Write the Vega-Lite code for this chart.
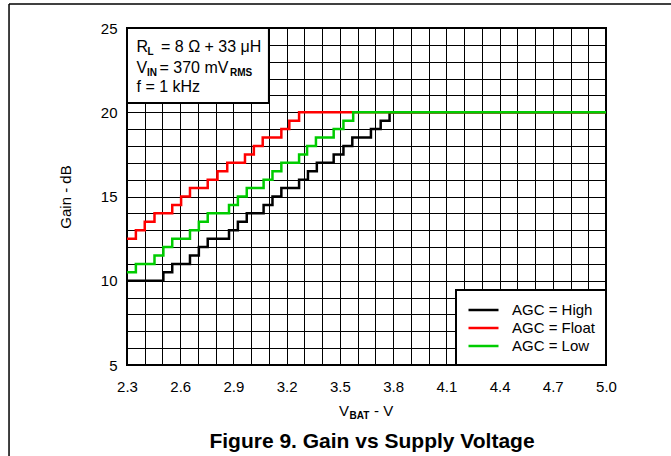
{
  "$schema": "https://vega.github.io/schema/vega-lite/v6.json",
  "autosize": {"type": "none"},
  "padding": {"left": 127, "top": 28, "right": 65, "bottom": 91},
  "width": 479,
  "height": 337,
  "background": "white",
  "config": {
    "font": "Liberation Sans",
    "view": {"stroke": "#000000", "strokeWidth": 2},
    "legend": {
      "orient": "bottom-right",
      "offset": 0,
      "fillColor": "white",
      "strokeColor": "black",
      "strokeWidth": 2,
      "padding": 11,
      "symbolType": "M-1,0H3",
      "symbolSize": 225,
      "symbolStrokeWidth": 2.5,
      "labelFontSize": 15,
      "labelFont": "Liberation Sans",
      "labelColor": "#000000",
      "labelOffset": 27,
      "rowPadding": 1,
      "labelLimit": 200
    }
  },
  "datasets": {
    "curves": [
      {"v": 2.30, "gain": 10, "agc": "AGC = High"},
      {"v": 2.505, "gain": 10.5, "agc": "AGC = High"},
      {"v": 2.555, "gain": 11, "agc": "AGC = High"},
      {"v": 2.655, "gain": 11.5, "agc": "AGC = High"},
      {"v": 2.705, "gain": 12, "agc": "AGC = High"},
      {"v": 2.755, "gain": 12.5, "agc": "AGC = High"},
      {"v": 2.875, "gain": 13, "agc": "AGC = High"},
      {"v": 2.925, "gain": 13.5, "agc": "AGC = High"},
      {"v": 2.975, "gain": 14, "agc": "AGC = High"},
      {"v": 3.07, "gain": 14.5, "agc": "AGC = High"},
      {"v": 3.12, "gain": 15, "agc": "AGC = High"},
      {"v": 3.17, "gain": 15.5, "agc": "AGC = High"},
      {"v": 3.27, "gain": 16, "agc": "AGC = High"},
      {"v": 3.32, "gain": 16.5, "agc": "AGC = High"},
      {"v": 3.37, "gain": 17, "agc": "AGC = High"},
      {"v": 3.465, "gain": 17.5, "agc": "AGC = High"},
      {"v": 3.52, "gain": 18, "agc": "AGC = High"},
      {"v": 3.57, "gain": 18.5, "agc": "AGC = High"},
      {"v": 3.675, "gain": 19, "agc": "AGC = High"},
      {"v": 3.73, "gain": 19.5, "agc": "AGC = High"},
      {"v": 3.78, "gain": 20, "agc": "AGC = High"},
      {"v": 5.0, "gain": 20, "agc": "AGC = High"},
      {"v": 2.30, "gain": 12.5, "agc": "AGC = Float"},
      {"v": 2.35, "gain": 13, "agc": "AGC = Float"},
      {"v": 2.40, "gain": 13.5, "agc": "AGC = Float"},
      {"v": 2.455, "gain": 14, "agc": "AGC = Float"},
      {"v": 2.555, "gain": 14.5, "agc": "AGC = Float"},
      {"v": 2.605, "gain": 15, "agc": "AGC = Float"},
      {"v": 2.655, "gain": 15.5, "agc": "AGC = Float"},
      {"v": 2.755, "gain": 16, "agc": "AGC = Float"},
      {"v": 2.81, "gain": 16.5, "agc": "AGC = Float"},
      {"v": 2.865, "gain": 17, "agc": "AGC = Float"},
      {"v": 2.965, "gain": 17.5, "agc": "AGC = Float"},
      {"v": 3.015, "gain": 18, "agc": "AGC = Float"},
      {"v": 3.065, "gain": 18.5, "agc": "AGC = Float"},
      {"v": 3.17, "gain": 19, "agc": "AGC = Float"},
      {"v": 3.215, "gain": 19.5, "agc": "AGC = Float"},
      {"v": 3.27, "gain": 20, "agc": "AGC = Float"},
      {"v": 5.0, "gain": 20, "agc": "AGC = Float"},
      {"v": 2.30, "gain": 10.5, "agc": "AGC = Low"},
      {"v": 2.35, "gain": 11, "agc": "AGC = Low"},
      {"v": 2.455, "gain": 11.5, "agc": "AGC = Low"},
      {"v": 2.505, "gain": 12, "agc": "AGC = Low"},
      {"v": 2.555, "gain": 12.5, "agc": "AGC = Low"},
      {"v": 2.655, "gain": 13, "agc": "AGC = Low"},
      {"v": 2.705, "gain": 13.5, "agc": "AGC = Low"},
      {"v": 2.755, "gain": 14, "agc": "AGC = Low"},
      {"v": 2.875, "gain": 14.5, "agc": "AGC = Low"},
      {"v": 2.925, "gain": 15, "agc": "AGC = Low"},
      {"v": 2.975, "gain": 15.5, "agc": "AGC = Low"},
      {"v": 3.07, "gain": 16, "agc": "AGC = Low"},
      {"v": 3.12, "gain": 16.5, "agc": "AGC = Low"},
      {"v": 3.17, "gain": 17, "agc": "AGC = Low"},
      {"v": 3.27, "gain": 17.5, "agc": "AGC = Low"},
      {"v": 3.315, "gain": 18, "agc": "AGC = Low"},
      {"v": 3.365, "gain": 18.5, "agc": "AGC = Low"},
      {"v": 3.465, "gain": 19, "agc": "AGC = Low"},
      {"v": 3.52, "gain": 19.5, "agc": "AGC = Low"},
      {"v": 3.575, "gain": 20, "agc": "AGC = Low"},
      {"v": 5.0, "gain": 20, "agc": "AGC = Low"}
    ],
    "box": [
      {"v": 2.3, "v2": 3.1, "gain": 25, "gain2": 20.55}
    ],
    "border": [
      {"v": 1.635, "v2": 1.635, "gain": 26.42, "gain2": -2},
      {"v": 1.635, "v2": 5.6, "gain": 26.42, "gain2": 26.42}
    ],
    "notes": [
      {"v": 2.3536, "gain": 23.576, "t": "R", "kind": "main"},
      {"v": 2.4917, "gain": 23.576, "t": "= 8 Ω + 33 μH", "kind": "main"},
      {"v": 2.3536, "gain": 22.359, "t": "V", "kind": "main"},
      {"v": 2.4832, "gain": 22.359, "t": "= 370 mV", "kind": "main"},
      {"v": 2.3536, "gain": 21.202, "t": "f = 1 kHz", "kind": "main"},
      {"v": 3.4951, "gain": 1.944, "t": "V", "kind": "axis"},
      {"v": 3.6923, "gain": 1.944, "t": "- V", "kind": "axis"},
      {"v": 2.4155, "gain": 23.576, "t": "L", "kind": "sub"},
      {"v": 2.4127, "gain": 22.359, "t": "IN", "kind": "sub"},
      {"v": 2.8806, "gain": 22.359, "t": "RMS", "kind": "sub"},
      {"v": 3.5542, "gain": 1.944, "t": "BAT", "kind": "sub"},
      {"v": 3.6811, "gain": 0.074, "t": "Figure 9. Gain vs Supply Voltage", "kind": "title"}
    ]
  },
  "encoding": {
    "x": {
      "field": "v",
      "type": "quantitative",
      "scale": {"domain": [2.3, 5.0], "nice": false, "zero": false},
      "axis": {
        "values": [2.3, 2.4, 2.5, 2.6, 2.7, 2.8, 2.9, 3.0, 3.1, 3.2, 3.3, 3.4, 3.5, 3.6, 3.7, 3.8, 3.9, 4.0, 4.1, 4.2, 4.3, 4.4, 4.5, 4.6, 4.7, 4.8, 4.9, 5.0],
        "grid": true,
        "gridColor": "#000000",
        "gridOpacity": 1,
        "gridWidth": 1,
        "ticks": false,
        "domain": false,
        "labelExpr": "abs(round(datum.value*10) - 23) % 3 == 0 ? format(datum.value, '.1f') : ''",
        "labelFontSize": 15,
        "labelFont": "Liberation Sans",
        "labelColor": "#000000",
        "labelPadding": 14,
        "labelOverlap": false,
        "labelFlush": false,
        "title": null
      }
    },
    "y": {
      "field": "gain",
      "type": "quantitative",
      "scale": {"domain": [5, 25], "nice": false, "zero": false},
      "axis": {
        "values": [5, 6, 7, 8, 9, 10, 11, 12, 13, 14, 15, 16, 17, 18, 19, 20, 21, 22, 23, 24, 25],
        "grid": true,
        "gridColor": "#000000",
        "gridOpacity": 1,
        "gridWidth": 1,
        "ticks": false,
        "domain": false,
        "labelExpr": "datum.value % 5 == 0 ? datum.label : ''",
        "labelFontSize": 15,
        "labelFont": "Liberation Sans",
        "labelColor": "#000000",
        "labelPadding": 10,
        "labelOverlap": false,
        "labelFlush": false,
        "title": "Gain - dB",
        "titleFontSize": 15,
        "titleFont": "Liberation Sans",
        "titleFontWeight": "normal",
        "titleColor": "#000000",
        "titlePadding": 27
      }
    }
  },
  "layer": [
    {
      "data": {"name": "box"},
      "mark": {"type": "rect", "fill": "white", "stroke": "black", "strokeWidth": 2},
      "encoding": {"x2": {"field": "v2"}, "y2": {"field": "gain2"}}
    },
    {
      "data": {"name": "curves"},
      "transform": [{"filter": "datum.agc == 'AGC = High'"}],
      "mark": {"type": "line", "interpolate": "step-after", "strokeWidth": 2.5},
      "encoding": {
        "color": {"field": "agc", "type": "nominal", "title": null,
          "scale": {"domain": ["AGC = High", "AGC = Float", "AGC = Low"], "range": ["#000000", "#FF0000", "#00CC00"]}}
      }
    },
    {
      "data": {"name": "curves"},
      "transform": [{"filter": "datum.agc == 'AGC = Float'"}],
      "mark": {"type": "line", "interpolate": "step-after", "strokeWidth": 2.5},
      "encoding": {
        "color": {"field": "agc", "type": "nominal", "title": null,
          "scale": {"domain": ["AGC = High", "AGC = Float", "AGC = Low"], "range": ["#000000", "#FF0000", "#00CC00"]}}
      }
    },
    {
      "data": {"name": "curves"},
      "transform": [{"filter": "datum.agc == 'AGC = Low'"}],
      "mark": {"type": "line", "interpolate": "step-after", "strokeWidth": 2.5},
      "encoding": {
        "color": {"field": "agc", "type": "nominal", "title": null,
          "scale": {"domain": ["AGC = High", "AGC = Float", "AGC = Low"], "range": ["#000000", "#FF0000", "#00CC00"]}}
      }
    },
    {
      "data": {"name": "notes"},
      "transform": [{"filter": "datum.kind == 'main'"}],
      "mark": {"type": "text", "align": "left", "baseline": "alphabetic", "fontSize": 16, "font": "Liberation Sans", "color": "#000000"},
      "encoding": {"text": {"field": "t"}}
    },
    {
      "data": {"name": "notes"},
      "transform": [{"filter": "datum.kind == 'axis'"}],
      "mark": {"type": "text", "align": "left", "baseline": "alphabetic", "fontSize": 15, "font": "Liberation Sans", "color": "#000000"},
      "encoding": {"text": {"field": "t"}}
    },
    {
      "data": {"name": "notes"},
      "transform": [{"filter": "datum.kind == 'sub'"}],
      "mark": {"type": "text", "align": "left", "baseline": "alphabetic", "fontSize": 10, "fontWeight": "bold", "dy": 3, "font": "Liberation Sans", "color": "#000000"},
      "encoding": {"text": {"field": "t"}}
    },
    {
      "data": {"name": "notes"},
      "transform": [{"filter": "datum.kind == 'title'"}],
      "mark": {"type": "text", "align": "center", "baseline": "alphabetic", "fontSize": 21, "fontWeight": "bold", "font": "Liberation Sans", "color": "#000000"},
      "encoding": {"text": {"field": "t"}}
    },
    {
      "data": {"name": "border"},
      "mark": {"type": "rule", "color": "#000000", "strokeWidth": 1.5},
      "encoding": {"x2": {"field": "v2"}, "y2": {"field": "gain2"}}
    }
  ]
}
